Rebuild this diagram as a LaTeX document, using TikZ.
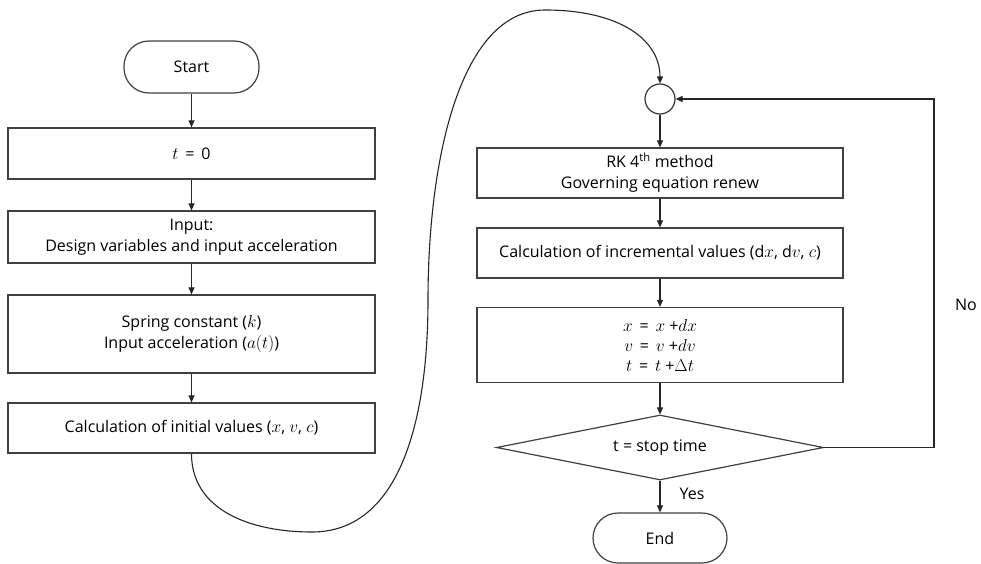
\documentclass[tikz,border=0pt]{standalone}
\usepackage{fontspec}
\setmainfont{Open Sans}
\usetikzlibrary{arrows.meta,shapes.geometric}
\begin{document}
\begin{tikzpicture}[x=1pt,y=-1pt,
  every node/.style={font=\fontsize{16}{21}\selectfont, align=center, inner sep=0pt},
  boxL/.style={draw=black!75, line width=1.2pt, minimum width=367pt},
  boxR/.style={draw=black!75, line width=1.2pt, minimum width=366pt},
  term/.style={draw=black!75, line width=1.2pt, rounded corners=25pt},
  joint/.style={draw=black!80, line width=1.2pt, circle, minimum size=30pt},
  decide/.style={draw=black!75, line width=1.2pt, diamond, aspect=5,
    minimum width=327pt, minimum height=65pt},
  flow/.style={draw=black!85, line width=1.1pt, -{Triangle[length=7pt,width=6pt]}}
]
\useasboundingbox (0,0) rectangle (981,564);

% left column
\node[term, minimum width=135pt, minimum height=52pt] (start) at (191.5,67) {Start};
\node[boxL, minimum height=51pt] (t0) at (191.5,153.5) {$t$ \,=\, 0};
\node[boxL, minimum height=52pt] (input) at (191.5,237) {Input:\\Design variables and input acceleration};
\node[boxL, minimum height=78pt] (spring) at (191.5,334) {Spring constant ($k$)\\Input acceleration ($a(t)$)};
\node[boxL, minimum height=50pt] (init) at (191.5,428) {Calculation of initial values ($x$, $v$, $c$)};

% right column
\node[joint] (join) at (660,99) {};
\node[boxR, minimum height=50pt] (rk) at (660,173) {RK 4\textsuperscript{th} method\\Governing equation renew};
\node[boxR, minimum height=50pt] (inc) at (660,253) {Calculation of incremental values ($\mathrm{d}x$, d$v$, $c$)};
\node[boxR, minimum height=75pt, font=\fontsize{16}{20}\selectfont] (upd) at (660,345) {$x$ \,=\, $x$ +$dx$\\$v$ \,=\, $v$ +$dv$\\$t$ \,=\, $t$ +$\Delta t$};
\node[decide] (stop) at (660,447.5) {t = stop time};
\node[term, minimum width=134pt, minimum height=50pt] (end) at (660,538) {End};

\node (yes) at (692,494) {Yes};
\node (no) at (966,305) {No};
\coordinate (corner1) at (934,447.5);
\coordinate (corner2) at (934,99);

% straight connectors
\draw[flow] (start) -- (t0);
\draw[flow] (t0) -- (input);
\draw[flow] (input) -- (spring);
\draw[flow] (spring) -- (init);
\draw[flow] (join) -- (rk);
\draw[flow] (rk) -- (inc);
\draw[flow] (inc) -- (upd);
\draw[flow] (upd) -- (stop);
\draw[flow] (stop) -- (end);

% loop back when the stop time is not reached
\draw[flow] (stop.east) -- (corner1) -- (corner2) -- (join.east);

% long curve from the left column to the junction
\draw[flow] (init.south)
  .. controls (191.5,510) and (250,532) .. (312,532)
  .. controls (400,532) and (428,420) .. (428,300)
  .. controls (428,160) and (460,10) .. (545,10)
  .. controls (620,10) and (660,40) .. (join.north);
\end{tikzpicture}
\end{document}
